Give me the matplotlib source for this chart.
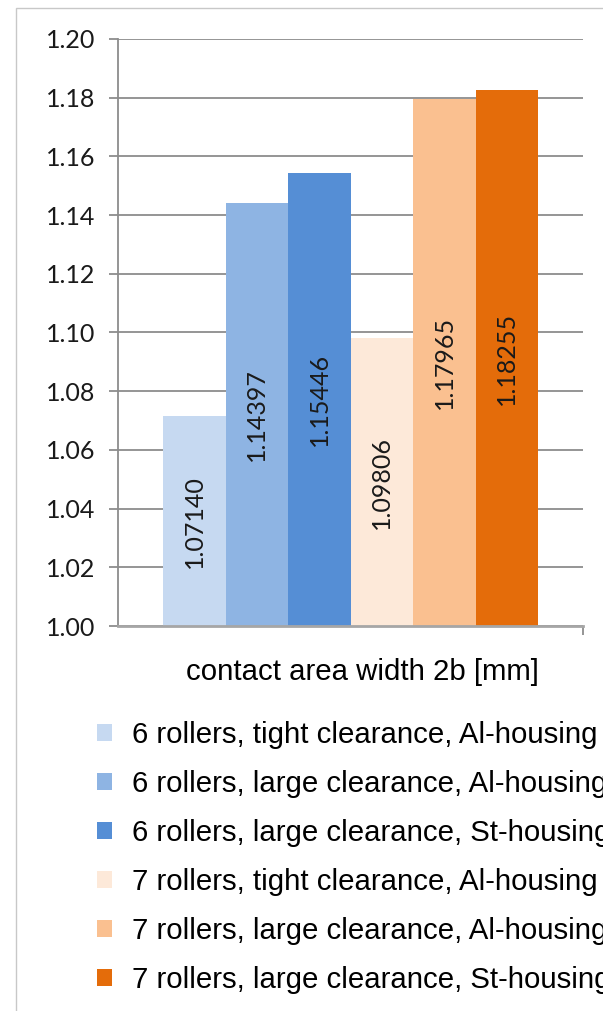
import matplotlib
matplotlib.use("Agg")
import matplotlib.pyplot as plt
from matplotlib.patches import Rectangle

series_labels = [
    "6 rollers, tight clearance, Al-housing",
    "6 rollers, large clearance, Al-housing",
    "6 rollers, large clearance, St-housing",
    "7 rollers, tight clearance, Al-housing",
    "7 rollers, large clearance, Al-housing",
    "7 rollers, large clearance, St-housing",
]
values = [1.07140, 1.14397, 1.15446, 1.09806, 1.17965, 1.18255]
value_texts = ["1.07140", "1.14397", "1.15446", "1.09806", "1.17965", "1.18255"]
colors = ["#C6D9F1", "#8EB4E3", "#558ED5", "#FDE9D9", "#FAC090", "#E46C0A"]
y_ticks = [1.00, 1.02, 1.04, 1.06, 1.08, 1.10, 1.12, 1.14, 1.16, 1.18, 1.20]
x_title = "contact area width 2b [mm]"

W, H = 603, 1011
fig = plt.figure(figsize=(W / 100, H / 100), dpi=100)

# outer chart border (cut off on right/bottom, as in the reference)
fig.patches.append(Rectangle((16 / W, -0.1), 1.2, 1 - 8 / H + 0.1, transform=fig.transFigure,
                             fill=False, edgecolor="#C8C8C8", linewidth=1.0))

ax = fig.add_axes([118 / W, 385 / H, (583 - 118) / W, (626 - 39) / H])

n = len(values)
group = 375 / 465
bw = group / n
xs = [-group / 2 + bw * (i + 0.5) for i in range(n)]
bars = []
for i in range(n):
    b = ax.bar(xs[i], values[i] - 1.0, bottom=1.0, width=bw, color=colors[i],
               linewidth=0, zorder=2, label=series_labels[i])
    bars.append(b)
    ax.text(xs[i], (1.0 + values[i]) / 2, value_texts[i], rotation=90, ha="center", va="center",
            fontsize=18, family=["Lato", "DejaVu Sans"], color="#1a1a1a", zorder=3)

ax.set_xlim(-0.5, 0.5)
ax.set_ylim(1.0, 1.2)
ax.set_yticks(y_ticks)
ax.set_yticklabels([f"{t:.2f}" for t in y_ticks], family=["Lato", "DejaVu Sans"], fontsize=18,
                   color="#1a1a1a")
ax.yaxis.grid(True, color="#8C8C8C", linewidth=1.3, zorder=0)
ax.set_axisbelow(True)
ax.tick_params(axis="y", length=6.5, width=1.3, color="#8C8C8C", pad=10)
ax.set_xticks([0.5])
ax.set_xticklabels([""])
ax.tick_params(axis="x", length=6.5, width=1.3, color="#8C8C8C")
for s in ["top", "right"]:
    ax.spines[s].set_visible(False)
ax.spines["left"].set_color("#8C8C8C")
ax.spines["left"].set_linewidth(1.3)
ax.spines["bottom"].set_color("#A6A6A6")
ax.spines["bottom"].set_linewidth(2)

fig.text(362 / W, 1 - 672 / H, x_title, ha="center", va="center", fontsize=21.2,
         family=["Liberation Sans", "DejaVu Sans"], color="#000000")

leg = fig.legend(handles=[b[0] for b in bars], labels=series_labels, loc="upper left",
                 bbox_to_anchor=(97 / W, 1 - 721 / H), frameon=False,
                 prop={"family": ["Liberation Sans", "DejaVu Sans"], "size": 21.2},
                 handlelength=0.52, handleheight=0.52, handletextpad=0.68,
                 labelspacing=0.71, borderpad=0, borderaxespad=0)

fig.savefig("out.png", dpi=100)
